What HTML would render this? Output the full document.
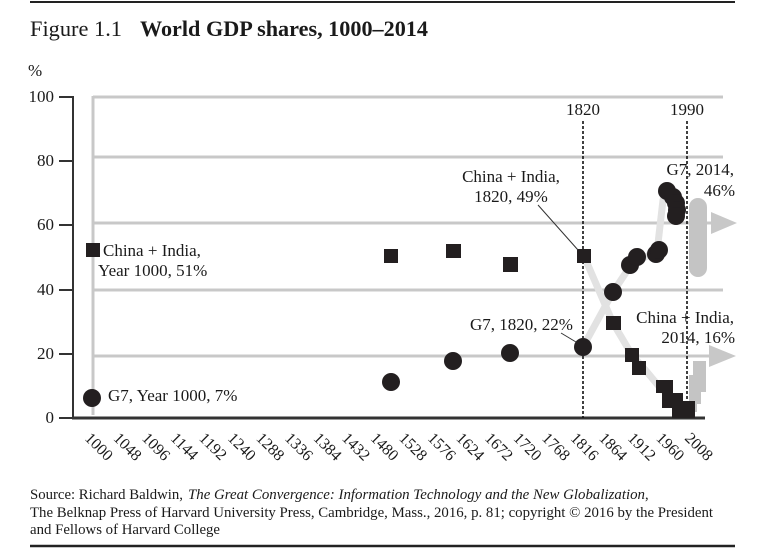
<!DOCTYPE html>
<html>
<head>
<meta charset="utf-8">
<style>
html,body{margin:0;padding:0;background:#fff;}
svg{display:block;}
text{font-family:"Liberation Serif","Times New Roman",serif;fill:#1a1a1a;}
</style>
</head>
<body>
<svg width="760" height="550" viewBox="0 0 760 550" xmlns="http://www.w3.org/2000/svg">
  <!-- top rule -->
  <line x1="30" y1="2" x2="735" y2="2" stroke="#222" stroke-width="2"/>
  <!-- title -->
  <text x="30" y="36" font-size="22" textLength="92" lengthAdjust="spacingAndGlyphs">Figure 1.1</text>
  <text x="140" y="36" font-size="22" font-weight="bold" textLength="288" lengthAdjust="spacingAndGlyphs">World GDP shares, 1000–2014</text>

  <!-- y axis label -->
  <text x="28" y="76" font-size="17">%</text>

  <!-- gridlines -->
  <g stroke="#c8c8c8" stroke-width="3" fill="none">
    <line x1="93" y1="97" x2="723" y2="97"/>
    <line x1="93" y1="157" x2="723" y2="157"/>
    <line x1="93" y1="223" x2="712" y2="223"/>
    <line x1="93" y1="290" x2="723" y2="290"/>
    <line x1="93" y1="356" x2="710" y2="356"/>
    <line x1="93" y1="96" x2="93" y2="415"/>
  </g>
  <!-- arrowheads -->
  <polygon points="711,212 737,223 711,234" fill="#c8c8c8"/>
  <polygon points="709,345 736,356 709,367" fill="#c8c8c8"/>

  <!-- y axis -->
  <g stroke="#333" stroke-width="2">
    <line x1="73" y1="96" x2="73" y2="419"/>
    <line x1="59" y1="97" x2="73" y2="97"/>
    <line x1="59" y1="161" x2="73" y2="161"/>
    <line x1="59" y1="225" x2="73" y2="225"/>
    <line x1="59" y1="290" x2="73" y2="290"/>
    <line x1="59" y1="354" x2="73" y2="354"/>
    <line x1="59" y1="418" x2="73" y2="418"/>
  </g>
  <line x1="72" y1="418" x2="705" y2="418" stroke="#333" stroke-width="3"/>
  <g font-size="17" text-anchor="end">
    <text x="54" y="102">100</text>
    <text x="54" y="166">80</text>
    <text x="54" y="230">60</text>
    <text x="54" y="295">40</text>
    <text x="54" y="359">20</text>
    <text x="54" y="423">0</text>
  </g>

  <!-- x labels -->
  <g font-size="16">
    <text transform="translate(84,439) rotate(45)">1000</text>
    <text transform="translate(112.6,439) rotate(45)">1048</text>
    <text transform="translate(141.1,439) rotate(45)">1096</text>
    <text transform="translate(169.7,439) rotate(45)">1144</text>
    <text transform="translate(198.3,439) rotate(45)">1192</text>
    <text transform="translate(226.9,439) rotate(45)">1240</text>
    <text transform="translate(255.4,439) rotate(45)">1288</text>
    <text transform="translate(284,439) rotate(45)">1336</text>
    <text transform="translate(312.6,439) rotate(45)">1384</text>
    <text transform="translate(341.1,439) rotate(45)">1432</text>
    <text transform="translate(369.7,439) rotate(45)">1480</text>
    <text transform="translate(398.3,439) rotate(45)">1528</text>
    <text transform="translate(426.9,439) rotate(45)">1576</text>
    <text transform="translate(455.4,439) rotate(45)">1624</text>
    <text transform="translate(484,439) rotate(45)">1672</text>
    <text transform="translate(512.6,439) rotate(45)">1720</text>
    <text transform="translate(541.1,439) rotate(45)">1768</text>
    <text transform="translate(569.7,439) rotate(45)">1816</text>
    <text transform="translate(598.3,439) rotate(45)">1864</text>
    <text transform="translate(626.9,439) rotate(45)">1912</text>
    <text transform="translate(655.4,439) rotate(45)">1960</text>
    <text transform="translate(684,439) rotate(45)">2008</text>
  </g>

  <!-- light gray connecting paths -->
  <g stroke="#e2e2e2" stroke-width="7" fill="none" stroke-linecap="round" stroke-linejoin="round">
    <polyline points="584,256 613,323 632,355 647,372 662,390"/>
    <polyline points="583,347 613,292 633,262 657,252 663,200"/>
  </g>

  <!-- gray forecast blobs -->
  <rect x="689" y="198" width="18" height="79" rx="9" fill="#c4c4c4"/>
  <polygon points="693,361 706,361 706,392 701,392 701,404 697,404 697,412 689,412 689,375 693,375" fill="#c4c4c4"/>

  <!-- dotted lines -->
  <g stroke="#111" stroke-width="1.6" stroke-dasharray="3,2">
    <line x1="583" y1="121" x2="583" y2="418"/>
    <line x1="687" y1="121" x2="687" y2="418"/>
  </g>
  <g font-size="17" text-anchor="middle">
    <text x="583" y="115">1820</text>
    <text x="687" y="115">1990</text>
  </g>

  <!-- squares (China + India) -->
  <g fill="#231f20">
    <rect x="86" y="243" width="14" height="14"/>
    <rect x="384" y="249" width="14" height="14"/>
    <rect x="446" y="244" width="15" height="14"/>
    <rect x="503" y="257" width="15" height="15"/>
    <rect x="577" y="249" width="14" height="14"/>
    <rect x="606" y="316" width="15" height="14"/>
    <rect x="625" y="348" width="14" height="14"/>
    <rect x="632" y="361" width="14" height="14"/>
    <polygon points="656,380 673,380 673,393 683,393 683,401 695,401 695,418 672,418 672,408 662,408 662,393 656,393"/>
  </g>

  <!-- circles (G7) -->
  <g fill="#231f20">
    <circle cx="92" cy="398" r="9"/>
    <circle cx="391" cy="382" r="9"/>
    <circle cx="453" cy="361" r="9"/>
    <circle cx="510" cy="353" r="9"/>
    <circle cx="583" cy="347" r="9"/>
    <circle cx="613" cy="292" r="9"/>
    <circle cx="630" cy="265" r="9"/>
    <circle cx="637" cy="257" r="9"/>
    <circle cx="656" cy="254" r="9"/>
    <circle cx="659" cy="250" r="9"/>
    <circle cx="667" cy="191" r="9"/>
    <circle cx="673" cy="197" r="9"/>
    <circle cx="676" cy="203" r="9"/>
    <circle cx="677" cy="210" r="9"/>
    <circle cx="676" cy="216" r="9"/>
  </g>

  <!-- leader lines -->
  <g stroke="#333" stroke-width="1">
    <line x1="538" y1="205" x2="578" y2="250"/>
    <line x1="561" y1="333" x2="576" y2="342"/>
  </g>

  <!-- annotations -->
  <g font-size="17">
    <text x="103" y="256">China + India,</text>
    <text x="98" y="276">Year 1000, 51%</text>
    <text x="108" y="401">G7, Year 1000, 7%</text>
    <text x="470" y="330">G7, 1820, 22%</text>
    <text x="511" y="182" text-anchor="middle">China + India,</text>
    <text x="511" y="202" text-anchor="middle">1820, 49%</text>
    <text x="734" y="175" text-anchor="end">G7, 2014,</text>
    <text x="735" y="196" text-anchor="end">46%</text>
    <text x="734" y="323" text-anchor="end">China + India,</text>
    <text x="735" y="343" text-anchor="end">2014, 16%</text>
  </g>

  <!-- source -->
  <g font-size="14.5">
    <text x="30" y="499" textLength="153" lengthAdjust="spacingAndGlyphs">Source: Richard Baldwin,</text>
    <text x="188" y="499" font-style="italic" textLength="457" lengthAdjust="spacingAndGlyphs">The Great Convergence: Information Technology and the New Globalization</text>
    <text x="645" y="499">,</text>
    <text x="30" y="517" textLength="683" lengthAdjust="spacingAndGlyphs">The Belknap Press of Harvard University Press, Cambridge, Mass., 2016, p. 81; copyright © 2016 by the President</text>
    <text x="30" y="534" textLength="190" lengthAdjust="spacingAndGlyphs">and Fellows of Harvard College</text>
  </g>
  <line x1="30" y1="546" x2="735" y2="546" stroke="#222" stroke-width="2.5"/>
</svg>
</body>
</html>
